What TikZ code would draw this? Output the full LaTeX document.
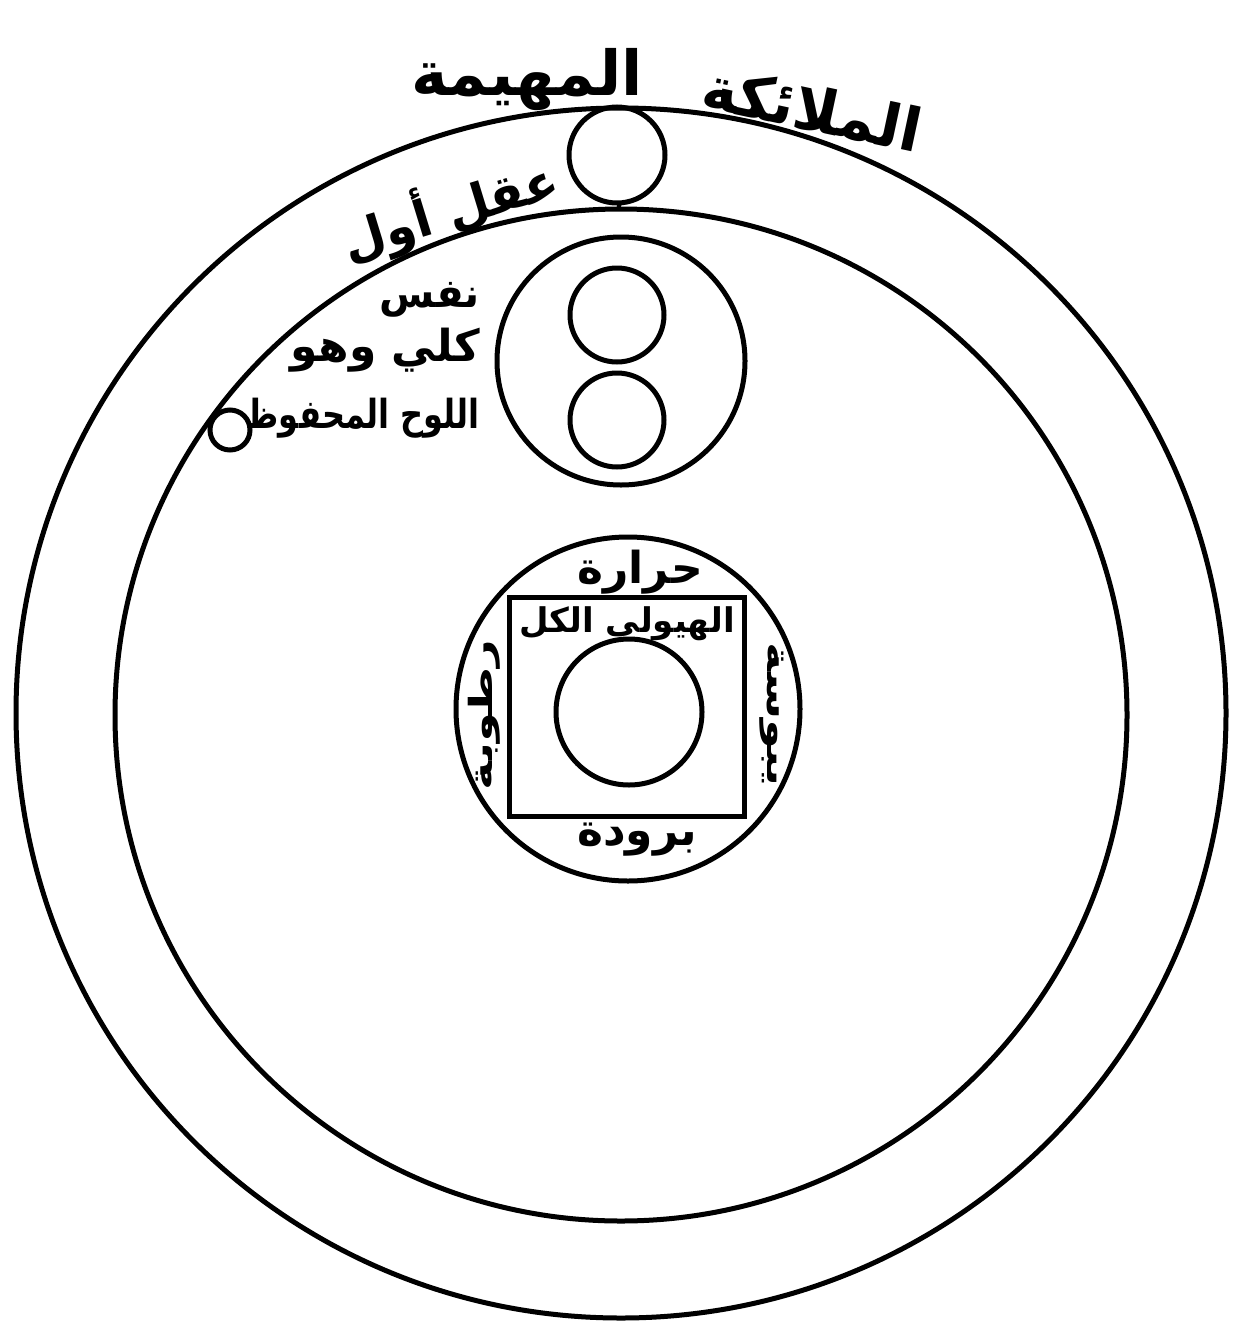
\documentclass[tikz,border=0pt]{standalone}
\usepackage{fontspec}
\newfontfamily\arabicfont[Script=Arabic]{DejaVu Sans}
\TeXXeTstate=1
\begin{document}
\begin{tikzpicture}[x=1pt,y=-1pt,
  ring/.style={draw, circle, line width=5pt, inner sep=0pt},
  arabtxt/.style={font=\arabicfont\bfseries\fontsize{#1}{#1}\selectfont, inner sep=0pt}]
\useasboundingbox (0,0) rectangle (1237,1333);
% circles
\node[ring, minimum size=1210pt] (outer) at (621,713) {};
\node[ring, minimum size=1012pt] (inner) at (621,715) {};
\node[ring, minimum size=96pt] (intellect) at (617,155) {};
\draw[line width=9pt] (intellect.south) -- (inner.north);
\node[ring, minimum size=40pt] (tablet) at (230,430) {};
\node[ring, minimum size=248pt] (soul) at (621,361) {};
\node[ring, minimum size=94pt] (soulA) at (617,315) {};
\node[ring, minimum size=94pt] (soulB) at (617,420) {};
\node[ring, minimum size=344pt] (nature) at (628,709) {};
\node[draw, line width=5pt, minimum width=235pt, minimum height=219pt, inner sep=0pt] (body) at (627,707) {};
\node[ring, minimum size=146pt] (earth) at (629,712) {};
% labels
\node[arabtxt=62, anchor=base] (lbA) at (527,95) {\beginR المهيمة\endR};
\node[arabtxt=60, anchor=base, rotate=-12] (lbB) at (808,130) {\beginR الملائكة\endR};
\node[arabtxt=50, anchor=base, rotate=17] (lbC) at (455,228) {\beginR عقل أول\endR};
\node[arabtxt=40, anchor=east] (lbD) at (480,300) {\beginR نفس\endR};
\node[arabtxt=44, anchor=east] (lbE) at (480,350) {\beginR كلي وهو\endR};
\node[arabtxt=40, anchor=east, xscale=0.8] (lbF) at (480,418) {\beginR اللوح المحفوظ\endR};
\node[arabtxt=44] (lbG) at (640,572) {\beginR حرارة\endR};
\node[arabtxt=34] (lbH) at (627,624) {\beginR الهيولى الكل\endR};
\node[arabtxt=44] (lbI) at (637,840) {\beginR برودة\endR};
\node[arabtxt=32, rotate=90, xscale=1.5] (lbJ) at (484,715) {\beginR رطوبة\endR};
\node[arabtxt=32, rotate=-90, xscale=1.5] (lbK) at (772,715) {\beginR يبوسة\endR};
\end{tikzpicture}
\end{document}
